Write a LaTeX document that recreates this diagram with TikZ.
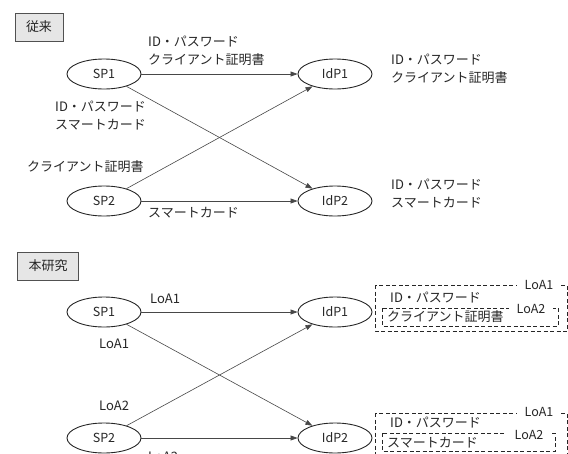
\documentclass[tikz,border=0pt]{standalone}
\usepackage{fontspec}
\setmainfont{Noto Sans CJK JP}
\usetikzlibrary{shapes.geometric,arrows.meta}
\definecolor{sumi}{HTML}{262626}
\definecolor{nezumi}{HTML}{E6E6E6}

\tikzset{
    ent/.style={draw=sumi, line width=0.9pt, ellipse, minimum width=74pt, minimum height=30pt, inner sep=0pt, text=sumi, font=\fontsize{12.5}{14}\selectfont},
    lbl/.style={anchor=west, align=left, inner sep=0pt, text=sumi, font=\fontsize{13}{18}\selectfont},
    loa/.style={fill=white, inner ysep=2pt, inner xsep=8pt, text=sumi, font=\fontsize{12.5}{14}\selectfont},
    hdr/.style={draw=sumi!80, line width=0.9pt, fill=nezumi, minimum height=28pt, inner xsep=11pt, text=sumi, font=\fontsize{13}{14}\selectfont},
    flow/.style={draw=sumi!85, line width=0.6pt, -{Triangle[length=7pt,width=5pt]}},
    loabox/.style={draw=sumi, line width=0.9pt, dash pattern=on 4pt off 2.5pt}
}

\begin{document}
\begin{tikzpicture}[x=1pt, y=-1pt]
    \useasboundingbox (0, 0) rectangle (568, 453);

    % upper: 従来
    \node[hdr] (old) at (39, 27) {従来};

    \node[ent] (sp1)  at (104, 74)  {SP1};
    \node[ent] (sp2)  at (104, 201) {SP2};
    \node[ent] (idp1) at (335, 74)  {IdP1};
    \node[ent] (idp2) at (335, 201) {IdP2};

    \foreach \a / \b in {sp1/idp1, sp1/idp2, sp2/idp1, sp2/idp2}
        \draw[flow] (\a) -- (\b);

    \node[lbl] (oldl1) at (148, 51)  {ID・パスワード\\クライアント証明書};
    \node[lbl] (oldl2) at (55, 116)  {ID・パスワード\\スマートカード};
    \node[lbl] (oldl3) at (27, 167)  {クライアント証明書};
    \node[lbl] (oldl4) at (148, 213) {スマートカード};

    \node[lbl] (oldr1) at (391, 69)  {ID・パスワード\\クライアント証明書};
    \node[lbl] (oldr2) at (391, 194) {ID・パスワード\\スマートカード};

    % lower: 本研究
    \node[hdr] (new) at (48, 266) {本研究};

    \node[ent] (nsp1)  at (104, 312) {SP1};
    \node[ent] (nsp2)  at (104, 438) {SP2};
    \node[ent] (nidp1) at (335, 312) {IdP1};
    \node[ent] (nidp2) at (335, 438) {IdP2};

    \foreach \a / \b in {nsp1/nidp1, nsp1/nidp2, nsp2/nidp1, nsp2/nidp2}
        \draw[flow] (\a) -- (\b);

    \node[lbl] (newl1) at (150, 299) {LoA1};
    \node[lbl] (newl2) at (99, 344)  {LoA1};
    \node[lbl] (newl3) at (99, 406)  {LoA2};
    \node[lbl] (newl4) at (148, 457) {LoA2};

    % right boxes
    \draw[loabox] (375, 285) rectangle (567, 331);
    \draw[loabox] (382, 308) rectangle (558, 326);
    \node[lbl] (newr1) at (390, 298) {ID・パスワード};
    \node[lbl] (newr2) at (387, 317) {クライアント証明書};
    \node[loa] (newa1) at (539, 285) {LoA1};
    \node[loa] (newa2) at (531, 309) {LoA2};

    \draw[loabox] (375, 413) rectangle (567, 459);
    \draw[loabox] (382, 433) rectangle (555, 451);
    \node[lbl] (newr3) at (390, 423) {ID・パスワード};
    \node[lbl] (newr4) at (387, 443) {スマートカード};
    \node[loa] (newa3) at (539, 412) {LoA1};
    \node[loa] (newa4) at (529, 435) {LoA2};

\end{tikzpicture}
\end{document}
